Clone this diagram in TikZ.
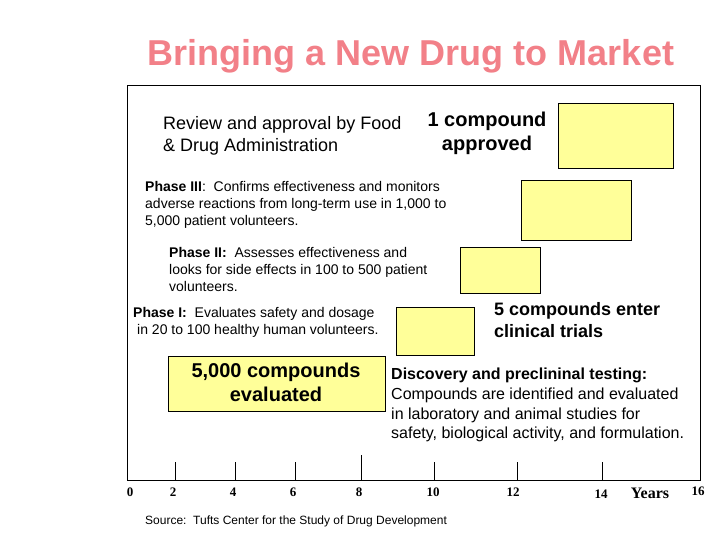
\documentclass[tikz,border=0pt]{standalone}
\usepackage{fontspec}
\setmainfont{Liberation Sans}
\newfontfamily\tnr{Liberation Serif}
\definecolor{titlered}{RGB}{242,128,136}
\definecolor{boxyellow}{RGB}{255,255,153}
\newcommand{\fsz}[2]{\fontsize{#1}{#2}\selectfont}
\tikzset{
  ybox/.style={draw=black, fill=boxyellow, line width=0.8pt},
  txt/.style={anchor=north west, inner sep=0pt, align=left},
  big/.style={inner sep=0pt, align=center, font=\bfseries\fsz{20}{24}},
  ticklab/.style={inner sep=0pt, font=\tnr\bfseries\fsz{13}{15}},
  tick/.style={line width=0.8pt}
}
\begin{document}
\begin{tikzpicture}[x=1pt,y=-1pt]
\useasboundingbox (0,0) rectangle (720,540);
% title
\node[inner sep=0pt, text=titlered, font=\bfseries\fsz{36}{40}] (title) at (411,56) {Bringing a New Drug to Market};
% frame
\draw[line width=0.8pt] (127,85) rectangle (700,480);
% yellow boxes
\node[ybox, minimum width=115pt, minimum height=65pt, anchor=north west] (b1) at (558,103) {};
\node[ybox, minimum width=110pt, minimum height=60pt, anchor=north west] (b2) at (521,180) {};
\node[ybox, minimum width=80pt, minimum height=46pt, anchor=north west] (b3) at (460,247) {};
\node[ybox, minimum width=78pt, minimum height=48pt, anchor=north west] (b4) at (396,307) {};
\node[ybox, minimum width=217pt, minimum height=55pt, anchor=north west] (b5) at (168,356) {};
% texts
\node[txt, font=\fsz{18}{22}] (fda) at (163,116) {Review and approval by Food\\\& Drug Administration};
\node[big, anchor=north] (one) at (487,112) {1 compound\\approved};
\node[txt, font=\fsz{14}{17}] (p3) at (145,181) {\textbf{Phase III}:\ \ Confirms effectiveness and monitors\\adverse reactions from long-term use in 1,000 to\\5,000 patient volunteers.};
\node[txt, font=\fsz{14}{17}] (p2) at (169,247) {\textbf{Phase II:}\ \ Assesses effectiveness and\\looks for side effects in 100 to 500 patient\\volunteers.};
\node[txt, font=\fsz{14}{17}] (p1) at (133,307) {\textbf{Phase I:}\ \ Evaluates safety and dosage\\\hspace*{4pt}in 20 to 100 healthy human volunteers.};
\node[txt, font=\bfseries\fsz{18}{22}] (five) at (494,302) {5 compounds enter\\clinical trials};
\node[big, anchor=north] (fivek) at (276,363) {5,000 compounds\\evaluated};
\node[txt, font=\fsz{16}{19.7}] (disc) at (391,368) {\textbf{Discovery and preclininal testing:}\\Compounds are identified and evaluated\\in laboratory and animal studies for\\safety, biological activity, and formulation.};
\node[txt, font=\fsz{12}{14}] (src) at (145,516) {Source:\ \ Tufts Center for the Study of Drug Development};
% ticks
\foreach \x in {175,235,295,434,517,602}{\draw[tick] (\x,462) -- (\x,480);}
\draw[tick] (361,455) -- (361,480);
% tick labels
\node[ticklab] (t0) at (130,492) {0};
\node[ticklab] (t2) at (173,492) {2};
\node[ticklab] (t4) at (233,492) {4};
\node[ticklab] (t6) at (293,492) {6};
\node[ticklab] (t8) at (359,492) {8};
\node[ticklab] (t10) at (433,492) {10};
\node[ticklab] (t12) at (513,492) {12};
\node[ticklab] (t14) at (601,494) {14};
\node[inner sep=0pt, font=\tnr\bfseries\fsz{16}{18}] (yrs) at (650,493) {Years};
\node[ticklab] (t16) at (698,491) {16};
\end{tikzpicture}
\end{document}
